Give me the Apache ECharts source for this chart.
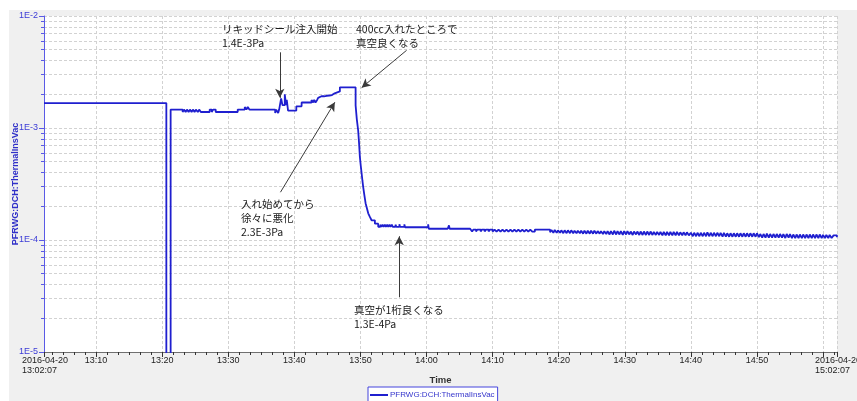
<!DOCTYPE html>
<html>
<head>
<meta charset="utf-8">
<script src="https://cdn.jsdelivr.net/npm/echarts@6/dist/echarts.min.js"></script>
<style>html,body{margin:0;padding:0;background:#fff;}#c{width:857px;height:401px;}</style>
</head>
<body>
<div id="c"></div>
<script>
// time = minutes after 13:00:00 on 2016-04-20, value = pressure [Pa]
const seriesName = 'PFRWG:DCH:ThermalInsVac';
const phaseBefore = [[2.1167,1.67e-3],[20.63,3e-6],[21.28,1.46e-3]];
const phaseInjection = [
 [23.10,1.39e-3],[23.30,1.46e-3],[23.55,1.39e-3],[23.75,1.46e-3],[24.00,1.39e-3],[24.20,1.46e-3],
 [24.45,1.39e-3],[24.65,1.46e-3],[24.90,1.39e-3],[25.10,1.46e-3],[25.40,1.39e-3],[25.60,1.46e-3],
 [25.85,1.39e-3],[27.19,1.46e-3],[27.50,1.39e-3],[27.70,1.46e-3],[28.10,1.39e-3],[31.43,1.46e-3],
 [32.50,1.54e-3],[32.75,1.46e-3],[32.95,1.54e-3],[33.20,1.46e-3],[35.10,1.52e-3],[35.35,1.46e-3],
 [35.55,1.52e-3],[35.75,1.46e-3],[36.00,1.52e-3],[36.25,1.46e-3],[36.50,1.52e-3],[36.75,1.46e-3],
 [37.10,1.36e-3],[37.25,1.46e-3],[37.55,1.36e-3],[37.70,1.46e-3],[38.00,1.84e-3],[38.20,1.60e-3],
 [38.55,2.00e-3],[38.75,1.60e-3],[38.85,1.78e-3],[39.05,1.43e-3],[40.30,1.56e-3],[41.10,1.69e-3],
 [42.60,1.78e-3],[42.85,1.69e-3],[43.00,1.78e-3],[43.20,1.69e-3],[43.45,1.78e-3],[43.60,1.86e-3],
 [43.90,1.92e-3],[44.10,1.97e-3],[44.30,1.92e-3],[44.50,1.99e-3],[44.70,1.94e-3],[44.90,2.00e-3],
 [45.10,1.95e-3],[45.30,2.02e-3],[45.50,1.97e-3],[45.70,2.04e-3],[46.10,2.12e-3],[46.89,2.31e-3]
];
const phaseDrop = [
 [49.27,1.59e-3],[49.45,1.20e-3],[49.66,9.5e-4],[49.80,7.2e-4],[49.92,5.5e-4],[50.05,4.6e-4],
 [50.18,3.94e-4],[50.30,3.4e-4],[50.42,2.97e-4],[50.60,2.5e-4],[50.78,2.13e-4],[51.00,1.9e-4],
 [51.18,1.73e-4],[51.45,1.6e-4],[51.69,1.5e-4],[52.19,1.40e-4],[52.69,1.31e-4]
];
const phaseAfter = [
 [53.00,1.37e-4],[53.15,1.31e-4],[53.35,1.37e-4],[53.50,1.31e-4],[53.70,1.37e-4],[53.85,1.31e-4],
 [54.05,1.37e-4],[54.20,1.31e-4],[54.40,1.37e-4],[54.55,1.31e-4],[54.75,1.37e-4],[54.90,1.31e-4],
 [55.30,1.37e-4],[55.45,1.31e-4],[55.90,1.38e-4],[56.00,1.31e-4],[56.65,1.38e-4],[56.75,1.30e-4],
 [60.25,1.38e-4],[60.35,1.26e-4],[61.00,1.23e-4],[61.10,1.26e-4],[62.10,1.23e-4],[62.20,1.26e-4],
 [63.20,1.23e-4],[63.30,1.26e-4],[63.40,1.35e-4],[63.50,1.26e-4],[64.50,1.23e-4],[64.60,1.26e-4],
 [65.60,1.23e-4],[65.75,1.26e-4],
 [66.60,1.24e-4],[66.90,1.19e-4],[67.10,1.24e-4],[67.50,1.19e-4],[67.70,1.24e-4],[68.20,1.19e-4],
 [68.35,1.24e-4],[68.80,1.19e-4],[69.00,1.24e-4],[69.40,1.19e-4],[69.60,1.24e-4],[70.00,1.19e-4],
 [70.30,1.24e-4],[70.60,1.19e-4],[70.90,1.24e-4],[71.20,1.19e-4],[71.50,1.24e-4],[71.80,1.19e-4],
 [72.10,1.24e-4],[72.40,1.19e-4],[72.70,1.24e-4],[73.00,1.19e-4],[73.30,1.24e-4],[73.60,1.19e-4],
 [73.90,1.24e-4],[74.20,1.19e-4],[74.50,1.24e-4],[74.80,1.19e-4],[75.10,1.24e-4],[75.40,1.19e-4],
 [75.70,1.24e-4],[76.00,1.19e-4],[76.40,1.24e-4],
 [78.70,1.17e-4],[78.90,1.23e-4],[79.20,1.16e-4],[79.40,1.23e-4],[79.70,1.16e-4],[79.90,1.22e-4],
 [80.20,1.16e-4],[80.40,1.22e-4],[80.70,1.15e-4],[80.90,1.22e-4],[81.20,1.15e-4],[81.40,1.22e-4],
 [81.70,1.15e-4],[81.90,1.22e-4],[82.20,1.15e-4],[82.40,1.21e-4],[82.70,1.15e-4],[82.90,1.21e-4],
 [83.20,1.15e-4],[83.40,1.21e-4],[83.70,1.14e-4],[83.90,1.21e-4],[84.20,1.14e-4],[84.40,1.21e-4],
 [84.70,1.14e-4],[84.90,1.21e-4],[85.20,1.14e-4],[85.40,1.21e-4],[85.70,1.14e-4],[85.90,1.20e-4],
 [86.20,1.14e-4],[86.40,1.20e-4],[86.70,1.13e-4],[86.90,1.20e-4],[87.20,1.13e-4],[87.40,1.20e-4],
 [87.70,1.12e-4],[87.90,1.20e-4],[88.20,1.12e-4],[88.40,1.21e-4],[88.70,1.12e-4],[88.90,1.20e-4],
 [89.20,1.12e-4],[89.40,1.20e-4],[89.70,1.11e-4],[89.90,1.20e-4],[90.20,1.12e-4],[90.40,1.20e-4],
 [90.70,1.12e-4],[90.90,1.19e-4],[91.20,1.11e-4],[91.40,1.19e-4],[91.70,1.12e-4],[91.90,1.19e-4],
 [92.20,1.11e-4],[92.40,1.19e-4],[92.70,1.11e-4],[92.90,1.19e-4],[93.20,1.11e-4],[93.40,1.19e-4],
 [93.70,1.11e-4],[93.90,1.19e-4],[94.20,1.11e-4],[94.40,1.18e-4],[94.70,1.11e-4],[94.90,1.18e-4],
 [95.20,1.11e-4],[95.40,1.18e-4],[95.70,1.10e-4],[95.90,1.18e-4],[96.20,1.10e-4],[96.40,1.18e-4],
 [96.70,1.10e-4],[96.90,1.18e-4],[97.20,1.10e-4],[97.40,1.18e-4],[97.70,1.10e-4],[97.90,1.18e-4],
 [98.20,1.10e-4],[98.40,1.17e-4],[98.70,1.10e-4],[98.90,1.17e-4],[99.20,1.10e-4],[99.40,1.17e-4],
 [99.70,1.10e-4],
 [100.0,1.16e-4],[100.3,1.08e-4],[100.5,1.16e-4],[100.8,1.08e-4],[101.0,1.16e-4],[101.3,1.08e-4],
 [101.5,1.16e-4],[101.8,1.08e-4],[102.0,1.16e-4],[102.3,1.08e-4],[102.5,1.17e-4],[102.8,1.08e-4],
 [103.0,1.16e-4],[103.3,1.08e-4],[103.5,1.16e-4],[103.8,1.08e-4],[104.0,1.16e-4],[104.3,1.08e-4],
 [104.5,1.16e-4],[104.8,1.07e-4],[105.0,1.16e-4],[105.3,1.07e-4],[105.5,1.15e-4],[105.8,1.07e-4],
 [106.0,1.15e-4],[106.3,1.07e-4],[106.5,1.15e-4],[106.8,1.07e-4],[107.0,1.15e-4],[107.3,1.07e-4],
 [107.5,1.15e-4],[107.8,1.07e-4],[108.0,1.15e-4],[108.3,1.07e-4],[108.5,1.15e-4],[108.8,1.07e-4],
 [109.0,1.15e-4],[109.3,1.07e-4],[109.5,1.15e-4],[109.8,1.07e-4],[110.0,1.15e-4],[110.3,1.06e-4],
 [110.5,1.13e-4],[110.8,1.05e-4],[111.0,1.13e-4],[111.3,1.05e-4],[111.5,1.14e-4],[111.8,1.05e-4],
 [112.0,1.13e-4],[112.3,1.05e-4],[112.5,1.13e-4],[112.8,1.05e-4],[113.0,1.13e-4],[113.3,1.05e-4],
 [113.5,1.13e-4],[113.8,1.05e-4],[114.0,1.13e-4],[114.3,1.04e-4],[114.5,1.13e-4],[114.8,1.05e-4],
 [115.0,1.13e-4],[115.3,1.04e-4],[115.5,1.12e-4],[115.8,1.04e-4],[116.0,1.12e-4],[116.3,1.04e-4],
 [116.5,1.12e-4],[116.8,1.04e-4],[117.0,1.12e-4],[117.3,1.04e-4],[117.5,1.12e-4],[117.8,1.04e-4],
 [118.0,1.12e-4],[118.3,1.04e-4],[118.5,1.12e-4],[118.8,1.04e-4],[119.0,1.12e-4],[119.3,1.04e-4],
 [119.5,1.12e-4],[119.8,1.04e-4],[120.0,1.11e-4],[120.3,1.04e-4],[120.5,1.11e-4],[120.8,1.04e-4],
 [121.0,1.11e-4],[121.3,1.04e-4],[121.6,1.10e-4],[122.1,1.06e-4]
];
// x-axis: major tick minutes (after 13:00) and which of them get a label
const axisStartLabel = ['2016-04-20', '13:02:07'];
const axisEndLabel = ['2016-04-20', '15:02:07'];
const majorTickMinutes = [10,20,30,40,50,60,70,80,90,100,110,120];
const labelledMinutes = [10,20,30,40,50,60,70,80,90,100,110];
// annotations: arrow [tailTime, tailValue, tipTime, tipValue]
const annotationArrows = [
 [37.80, 4.74e-3, 37.80, 1.86e-3],
 [56.99, 4.94e-3, 50.18, 2.29e-3],
 [37.90, 2.67e-4, 46.13, 1.70e-3],
 [55.87, 3.08e-5, 55.87, 1.08e-4]
];
const annotationTexts = [
 'リキッドシール注入開始\n1.4E-3Pa',
 '400cc入れたところで\n真空良くなる',
 '入れ始めてから\n徐々に悪化\n2.3E-3Pa',
 '真空が1桁良くなる\n1.3E-4Pa'
];

const X_MIN = 2 + 7/60, X_MAX = 122 + 7/60;
const samples = phaseBefore.concat(phaseInjection, phaseDrop, phaseAfter);
const minorTicks = [];
for (let k = 1; k * 10 / 6 < X_MAX; k++) {
  const v = k * 10 / 6;
  if (v > X_MIN && k % 6 !== 0) minorTicks.push(v);
}
const pad = n => (n < 10 ? '0' : '') + n;
function xLabel(v) {
  if (Math.abs(v - X_MIN) < 1e-6) return '{d|' + axisStartLabel[0] + '}\n{d|' + axisStartLabel[1] + '}';
  if (Math.abs(v - X_MAX) < 1e-6) return '{d|' + axisEndLabel[0] + '}\n{d|' + axisEndLabel[1] + '}';
  const tot = Math.round(v);
  return (13 + Math.floor(tot / 60)) + ':' + pad(tot % 60);
}
const cjk = '"Noto Sans CJK JP", sans-serif';
const textPos = [[222, 22], [356, 22], [241, 197], [354, 303]];

const chart = echarts.init(document.getElementById('c'), null, {renderer: 'canvas'});
chart.setOption({
  animation: false,
  backgroundColor: '#f0f0f0',
  textStyle: {fontFamily: '"Liberation Sans", Arial, sans-serif'},
  graphic: [
    {type: 'rect', left: 0, top: 0, shape: {width: 857, height: 10}, style: {fill: '#fff'}, z: -1, silent: true},
    {type: 'rect', left: 0, top: 0, shape: {width: 9, height: 401}, style: {fill: '#fff'}, z: -1, silent: true}
  ].concat(annotationTexts.map((t, i) => ({
    type: 'text', left: textPos[i][0], top: textPos[i][1], z: 100,
    style: {text: t, font: '10.5px ' + cjk, fill: '#1a1a1a', lineHeight: 14}
  }))),
  grid: {left: 44, right: 20, top: 16, bottom: 49, show: true, backgroundColor: '#fff', borderWidth: 0,
         containLabel: false, outerBoundsMode: 'none'},
  legend: {
    data: [seriesName], left: 368, top: 387, padding: [4, 3, 8, 2],
    backgroundColor: '#fff', borderColor: '#4545dd', borderWidth: 1,
    icon: 'rect', itemWidth: 18, itemHeight: 2, itemGap: 4,
    textStyle: {color: '#3535cc', fontSize: 8, padding: [0, 0, 0, -3]}
  },
  xAxis: [{
    type: 'value', min: X_MIN, max: X_MAX, position: 'bottom',
    name: 'Time', nameLocation: 'middle', nameGap: 23, nameMoveOverlap: false,
    nameTextStyle: {fontWeight: 'bold', fontSize: 9.5, color: '#333'},
    axisLine: {show: true, lineStyle: {color: '#707070', width: 1}},
    axisTick: {show: true, length: 5, customValues: [X_MIN].concat(majorTickMinutes, [X_MAX]), lineStyle: {color: '#333'}},
    axisLabel: {
      customValues: [X_MIN].concat(labelledMinutes, [X_MAX]), formatter: xLabel,
      fontSize: 9, color: '#222', margin: 4, lineHeight: 9.5, hideOverlap: false,
      rich: {d: {width: 44, align: 'left', fontSize: 9, lineHeight: 9.5, color: '#222'}}
    },
    splitLine: {show: true, lineStyle: {color: '#d2d2d2', type: [3, 2]}}
  }, {
    type: 'value', min: X_MIN, max: X_MAX, position: 'bottom',
    axisLine: {show: false}, axisLabel: {show: false}, splitLine: {show: false},
    axisTick: {show: true, length: 3, customValues: minorTicks, lineStyle: {color: '#333'}}
  }],
  yAxis: {
    type: 'log', logBase: 10, min: 1e-5, max: 1e-2,
    name: seriesName, nameLocation: 'middle', nameGap: 24, nameRotate: 90, nameMoveOverlap: false,
    nameTextStyle: {fontWeight: 'bold', fontSize: 9, color: '#3030c8'},
    axisLine: {show: true, lineStyle: {color: '#5a5ae6'}},
    axisTick: {show: true, length: 5, lineStyle: {color: '#5a5ae6'}},
    minorTick: {show: true, splitNumber: 9, length: 3, lineStyle: {color: '#5a5ae6'}},
    minorSplitLine: {show: true, lineStyle: {color: '#d2d2d2', type: [3, 2]}},
    splitLine: {show: true, lineStyle: {color: '#d2d2d2', type: [3, 2]}},
    axisLabel: {
      color: '#3b3bd6', fontSize: 9, margin: 6,
      formatter: v => '1E' + Math.round(Math.log10(v))
    }
  },
  series: [{
    name: seriesName, type: 'line', step: 'end', data: samples,
    showSymbol: false, symbol: 'none', clip: true,
    lineStyle: {color: '#1f1fcf', width: 1.8}, itemStyle: {color: '#1f1fcf'},
    markLine: {
      silent: true, symbol: ['none', 'arrow'], symbolSize: [7, 9],
      lineStyle: {color: '#3a3a3a', width: 1, type: 'solid'},
      label: {show: false}, emphasis: {disabled: true},
      data: annotationArrows.map(a => [{coord: [a[0], a[1]]}, {coord: [a[2], a[3]]}])
    }
  }]
});
</script>
</body>
</html>
